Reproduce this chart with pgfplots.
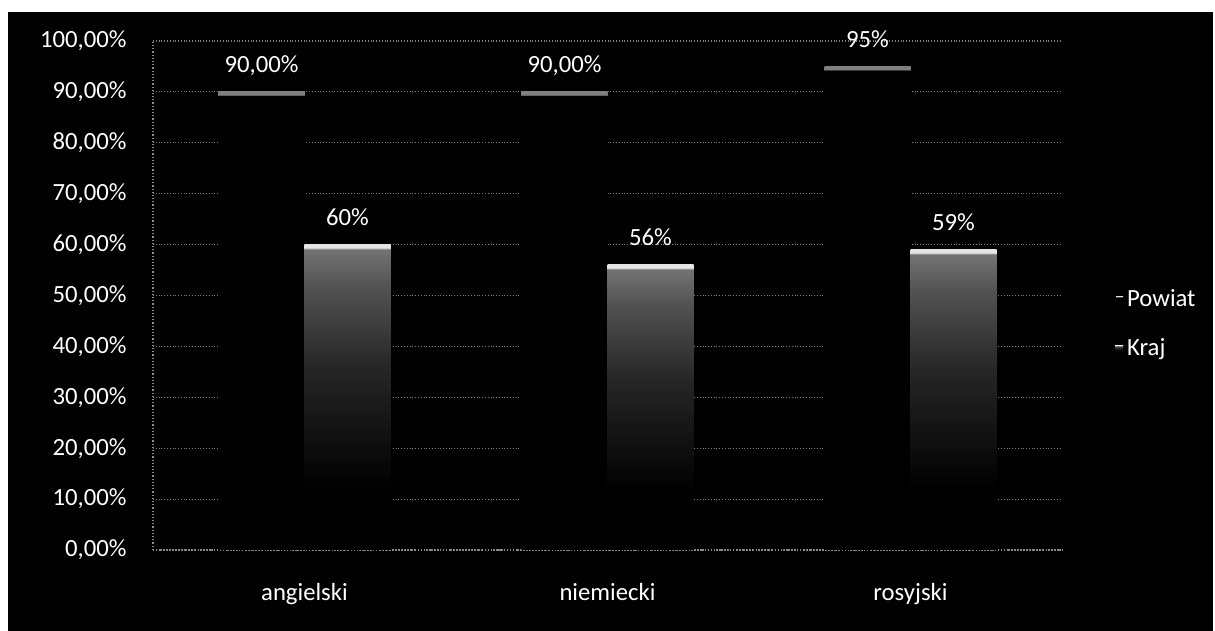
\documentclass[border=0pt]{standalone}
\usepackage{fontspec}
\setmainfont{Carlito}
\usepackage{pgfplots}
\pgfplotsset{compat=1.18}
\pgfdeclareverticalshading{krajshade}{100bp}{color(0bp)=(black); color(35bp)=(black); color(55bp)=(black!85!white); color(68bp)=(black!68!white); color(74.2bp)=(black!55!white); color(74.5bp)=(white!90!black); color(100bp)=(white!90!black)}
\pgfdeclareverticalshading{powiatshade}{100bp}{color(0bp)=(black); color(74.6bp)=(black); color(74.68bp)=(white!50!black); color(100bp)=(white!50!black)}
\pgfplotstableread{
x y lab
0 90 {90,00\%}
1 90 {90,00\%}
2 95 95\%
}\powiat
\pgfplotstableread{
x y lab
0 60 60\%
1 56 56\%
2 59 59\%
}\kraj
\begin{document}
\begin{tikzpicture}
\useasboundingbox (-76.5bp,-40.5bp) rectangle (531bp,275bp);
\fill[white] (-76.5bp,-40.5bp) rectangle (531bp,275bp);
\fill[black] (-72.5bp,-40.5bp) rectangle (530bp,269bp);
\begin{axis}[
  at={(0,0)}, anchor=south west,
  scale only axis,
  width=454.5bp, height=254.5bp,
  xmin=-0.5, xmax=2.5, ymin=0, ymax=100,
  ybar, bar width=43bp,
  axis x line*=bottom, axis y line*=left,
  axis line style={densely dotted, white!55!black, line width=0.6pt},
  ymajorgrids,
  major grid style={densely dotted, white!50!black, line width=0.6pt},
  major tick length=0pt,
  xtick={0,1,2},
  xticklabels={angielski,niemiecki,rosyjski},
  ytick={0,10,...,100},
  yticklabels={{0,00\%},{10,00\%},{20,00\%},{30,00\%},{40,00\%},{50,00\%},{60,00\%},{70,00\%},{80,00\%},{90,00\%},{100,00\%}},
  yticklabel style={anchor=east, inner sep=0pt, xshift=-13bp, text=white, font=\fontsize{12.4}{14}\selectfont},
  xticklabel style={anchor=north, inner sep=0pt, yshift=-16.5bp, text=white, font=\fontsize{12.4}{14}\selectfont},
  nodes near coords={\pgfplotspointmeta},
  point meta=explicit symbolic,
  nodes near coords style={anchor=base, inner sep=0pt, yshift=9.5bp, text=white, font=\fontsize{12.4}{14}\selectfont},
  legend style={at={(1.058,0.444)}, anchor=west, fill=black, draw=none, text=white,
    font=\fontsize{12.4}{14}\selectfont, row sep=11bp, inner sep=0pt},
  legend cell align=left,
  powiat/.style={draw=none, shading=powiatshade, shade, bar shift=-21.5bp},
  kraj/.style={draw=none, shading=krajshade, shade, bar shift=21.5bp},
]
\addplot[powiat,
  legend image code/.code={\fill[white!45!black] (-1bp,-1.2bp) rectangle (2.5bp,1.2bp);}]
  table[x=x, y=y, meta=lab, skip coords between index={1}{3}] {\powiat};
\addlegendentry{Powiat}
\addplot[powiat, forget plot] table[x=x, y=y, meta=lab, skip coords between index={0}{1}, skip coords between index={2}{3}] {\powiat};
\addplot[powiat, forget plot] table[x=x, y=y, meta=lab, skip coords between index={0}{2}] {\powiat};
\addplot[kraj,
  legend image code/.code={\fill[white!90!black] (-1.5bp,-1.5bp) rectangle (2.5bp,1.8bp);}]
  table[x=x, y=y, meta=lab, skip coords between index={1}{3}] {\kraj};
\addlegendentry{Kraj}
\addplot[kraj, forget plot] table[x=x, y=y, meta=lab, skip coords between index={0}{1}, skip coords between index={2}{3}] {\kraj};
\addplot[kraj, forget plot] table[x=x, y=y, meta=lab, skip coords between index={0}{2}] {\kraj};
\end{axis}
\end{tikzpicture}
\end{document}
